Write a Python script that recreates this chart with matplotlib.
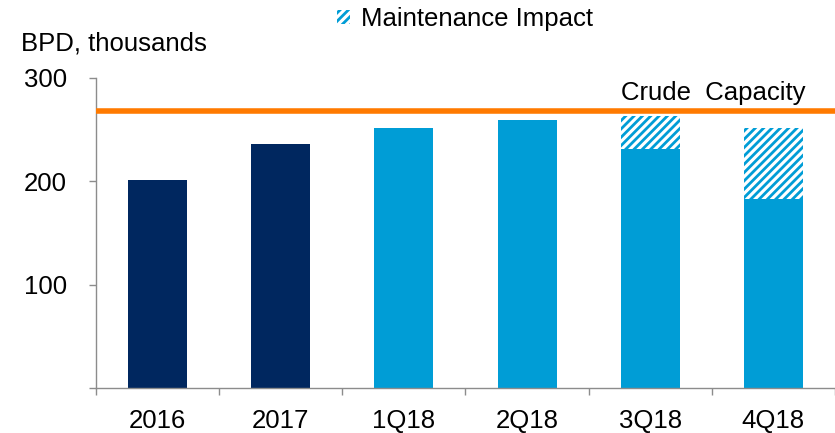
import numpy as np
import matplotlib as mpl
mpl.use('Agg')
import matplotlib.pyplot as plt
from matplotlib.patches import Patch

# values, BPD thousands
categories = ['2016', '2017', '1Q18', '2Q18', '3Q18', '4Q18']
throughput = [201, 236, 251, 259, 231, 183]
maintenance = [0, 0, 0, 0, 32, 68]
crude_capacity = 268

navy = '#00275F'
blue = '#009DD6'
orange = '#FF7A00'
grey = '#8C8C8C'

plt.rcParams['font.family'] = ['Liberation Sans', 'DejaVu Sans']
plt.rcParams['font.size'] = 18.5
plt.rcParams['hatch.linewidth'] = 2.0

fig = plt.figure(figsize=(8.35, 4.33), dpi=100)
ax = fig.add_axes([96 / 835, 1 - 388.3 / 433, 1 - 96 / 835, (388.3 - 77.7) / 433])

x = np.arange(len(categories))
colors = [navy, navy, blue, blue, blue, blue]
ax.bar(x, throughput, width=0.48, color=colors, linewidth=0, zorder=2)
ax.bar(x, maintenance, width=0.48, bottom=throughput, facecolor='white',
       edgecolor=blue, hatch='////', linewidth=0, zorder=2)

ax.axhline(crude_capacity, color=orange, linewidth=4, zorder=3)
ax.text(4.51, crude_capacity + 6, 'Crude  Capacity', ha='center', va='bottom')

ax.set_xlim(-0.5, 5.5)
ax.set_ylim(0, 300)

ax.set_yticks([0, 100, 200, 300])
ax.set_yticklabels(['', '100', '200', '300'])
ax.set_xticks(x)
ax.set_xticklabels(categories)
ax.set_xticks(np.arange(-0.5, 6, 1), minor=True)

ax.tick_params(axis='y', length=5, width=1, color=grey, pad=16)
ax.tick_params(axis='x', which='major', length=0, pad=15)
ax.tick_params(axis='x', which='minor', length=5, width=1, color=grey)

for side in ['top', 'right']:
    ax.spines[side].set_visible(False)
for side in ['left', 'bottom']:
    ax.spines[side].set_color(grey)
    ax.spines[side].set_linewidth(1)

fig.text(21 / 835, 1 - 43.5 / 433, 'BPD, thousands', ha='left', va='center')

handle = Patch(facecolor='white', edgecolor=blue, hatch='////', linewidth=0)
fig.legend(handles=[handle], labels=['Maintenance Impact'], loc='center left',
           bbox_to_anchor=(337 / 835, 1 - 19 / 433), frameon=False,
           borderpad=0, borderaxespad=0, handlelength=0.5, handleheight=0.5,
           handletextpad=0.45)

plt.savefig('out.png', dpi=100)
